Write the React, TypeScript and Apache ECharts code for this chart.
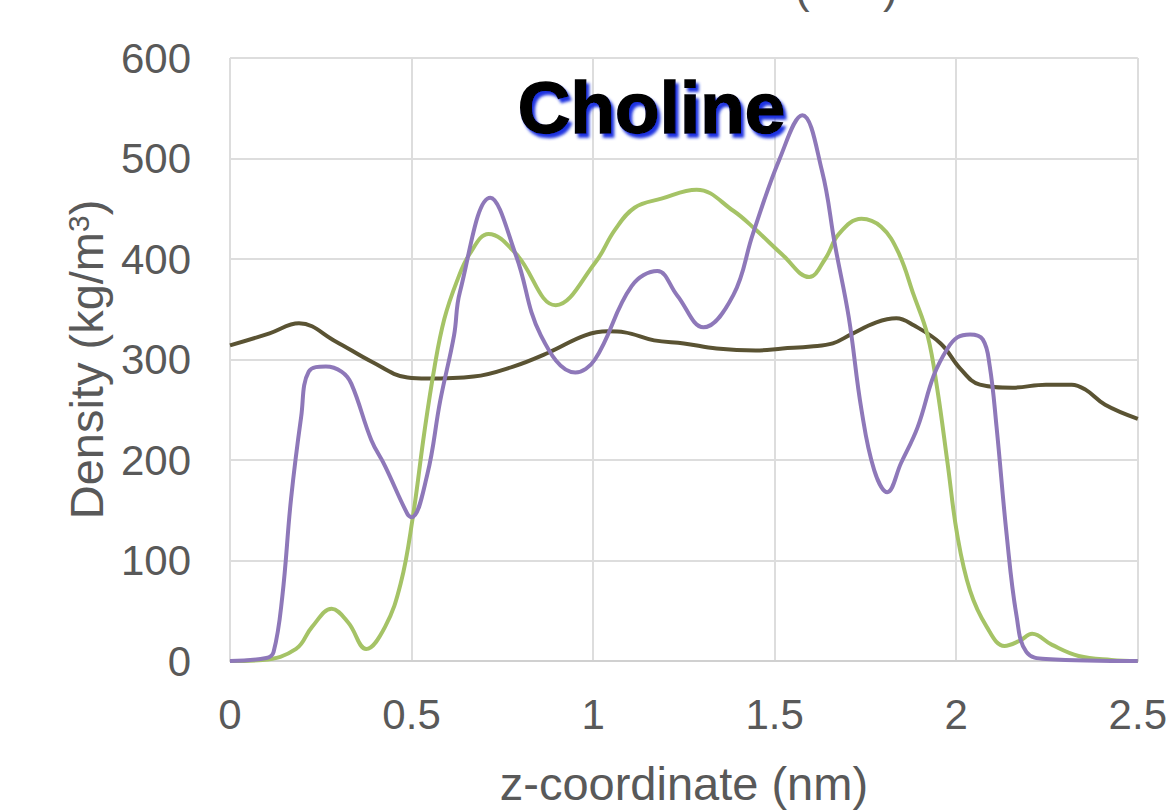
import React, { useEffect, useRef } from "react";
import * as echarts from "echarts";

const xTicks = ["0", "0.5", "1", "1.5", "2", "2.5"];

const purpleZ = [0, 0.1, 0.12, 0.144, 0.168, 0.196, 0.217, 0.264, 0.307, 0.334, 0.389, 0.427, 0.489, 0.5, 0.543, 0.579, 0.617, 0.633, 0.717, 0.788, 0.856, 0.951, 1.005, 1.106, 1.177, 1.231, 1.304, 1.386, 1.44, 1.514, 1.576, 1.63, 1.666, 1.704, 1.739, 1.774, 1.81, 1.848, 1.894, 1.938, 1.976, 2.003, 2.038, 2.073, 2.092, 2.111, 2.139, 2.166, 2.193, 2.247, 2.5];
const purpleD = [0, 3, 9, 64, 161, 243, 288, 293, 288, 276, 220, 194, 146, 143, 185, 259, 324, 367, 461, 403, 324, 287, 300, 373, 388, 364, 332, 364, 425, 500, 543, 488, 414, 342, 250, 190, 168, 197, 233, 284, 311, 322, 325, 320, 294, 233, 125, 45, 9, 2, 0];

const greenZ = [0, 0.09, 0.182, 0.226, 0.28, 0.326, 0.375, 0.427, 0.47, 0.503, 0.535, 0.563, 0.59, 0.625, 0.66, 0.712, 0.788, 0.897, 1.005, 1.06, 1.114, 1.188, 1.285, 1.386, 1.448, 1.522, 1.595, 1.639, 1.677, 1.739, 1.793, 1.84, 1.883, 1.921, 1.948, 1.976, 2.003, 2.038, 2.084, 2.133, 2.174, 2.209, 2.264, 2.337, 2.427, 2.5];
const greenD = [0, 1, 12, 34, 52, 38, 12, 34, 77, 142, 227, 292, 340, 378, 405, 425, 405, 354, 396, 429, 451, 460, 469, 448, 429, 404, 382, 400, 425, 440, 432, 407, 364, 324, 270, 197, 125, 70, 34, 15, 20, 27, 16, 5, 1, 0];

const oliveZ = [0, 0.109, 0.19, 0.291, 0.389, 0.489, 0.543, 0.671, 0.78, 0.878, 0.978, 1.041, 1.087, 1.168, 1.25, 1.34, 1.448, 1.522, 1.6, 1.66, 1.71, 1.78, 1.835, 1.883, 1.957, 2.011, 2.065, 2.155, 2.247, 2.318, 2.356, 2.41, 2.5];
const oliveD = [314, 326, 336, 318, 298, 282, 281, 283, 293, 307, 324, 328, 327, 319, 316, 311, 309, 311, 313, 316, 325, 337, 341, 334, 316, 291, 275, 272, 275, 275, 270, 255, 241];

const pair = (zs: number[], ds: number[]) => zs.map((z, i) => [z, ds[i]]);

export default function App() {
  const ref = useRef<HTMLDivElement>(null);
  useEffect(() => {
    document.body.style.margin = "0";
    const chart = echarts.init(ref.current!, null, { renderer: "svg" });
    const font = "Liberation Sans, Arial, sans-serif";
    chart.setOption({
      animation: false,
      backgroundColor: "#ffffff",
      grid: { left: 230, right: 20, top: 58, bottom: 140, containLabel: false },
      xAxis: {
        type: "value",
        min: 0,
        max: 2.5,
        interval: 0.5,
        name: "z-coordinate (nm)",
        nameLocation: "middle",
        nameGap: 99,
        nameTextStyle: { fontSize: 47, color: "#595959", fontFamily: font },
        axisLine: { show: true, lineStyle: { color: "#d0d0d0", width: 2 } },
        axisTick: { show: false },
        axisLabel: {
          fontSize: 42,
          color: "#595959",
          fontFamily: font,
          margin: 32,
          formatter: (v: number) => xTicks[Math.round(v / 0.5)] ?? String(v),
        },
        splitLine: { show: true, lineStyle: { color: "#dddddd", width: 2 } },
      },
      yAxis: {
        type: "value",
        min: 0,
        max: 600,
        interval: 100,
        name: "{a|Density (kg/m}{s|3}{a|)}",
        nameLocation: "middle",
        nameGap: 118,
        nameTextStyle: {
          color: "#595959",
          fontFamily: font,
          rich: {
            a: { fontSize: 47, color: "#595959", fontFamily: font },
            s: { fontSize: 30, color: "#595959", fontFamily: font, verticalAlign: "top", padding: [0, 0, 16, 0] },
          },
        },
        axisLine: { show: false },
        axisTick: { show: false },
        axisLabel: { fontSize: 42, color: "#595959", fontFamily: font, margin: 39 },
        splitLine: { show: true, lineStyle: { color: "#dddddd", width: 2 } },
      },
      series: [
        {
          type: "line",
          data: pair(oliveZ, oliveD),
          smooth: 0.4,
          showSymbol: false,
          lineStyle: { color: "#5a5333", width: 4 },
          z: 2,
        },
        {
          type: "line",
          data: pair(greenZ, greenD),
          smooth: 0.4,
          showSymbol: false,
          lineStyle: { color: "#a5c366", width: 4 },
          z: 3,
        },
        {
          type: "line",
          data: pair(purpleZ, purpleD),
          smooth: 0.4,
          showSymbol: false,
          lineStyle: { color: "#8e78b9", width: 4 },
          z: 4,
        },
      ],
      graphic: [
        {
          type: "text",
          left: 517,
          top: 70,
          z: 10,
          style: {
            text: "Choline",
            fontSize: 73,
            fontWeight: "bold",
            fontFamily: font,
            fill: "#000000",
            stroke: "#000000",
            lineWidth: 1.5,
            textShadowColor: "#1e30e0",
            textShadowBlur: 3,
            textShadowOffsetX: 3,
            textShadowOffsetY: 4,
          },
        },
        {
          type: "text",
          x: 795,
          y: 9,
          style: {
            text: "(      )",
            fontSize: 44,
            fontFamily: font,
            fill: "#595959",
            verticalAlign: "bottom",
          },
        },
      ],
    });
    return () => chart.dispose();
  }, []);
  return <div ref={ref} style={{ width: 1170, height: 812, position: "absolute", left: 0, top: 0 }} />;
}
